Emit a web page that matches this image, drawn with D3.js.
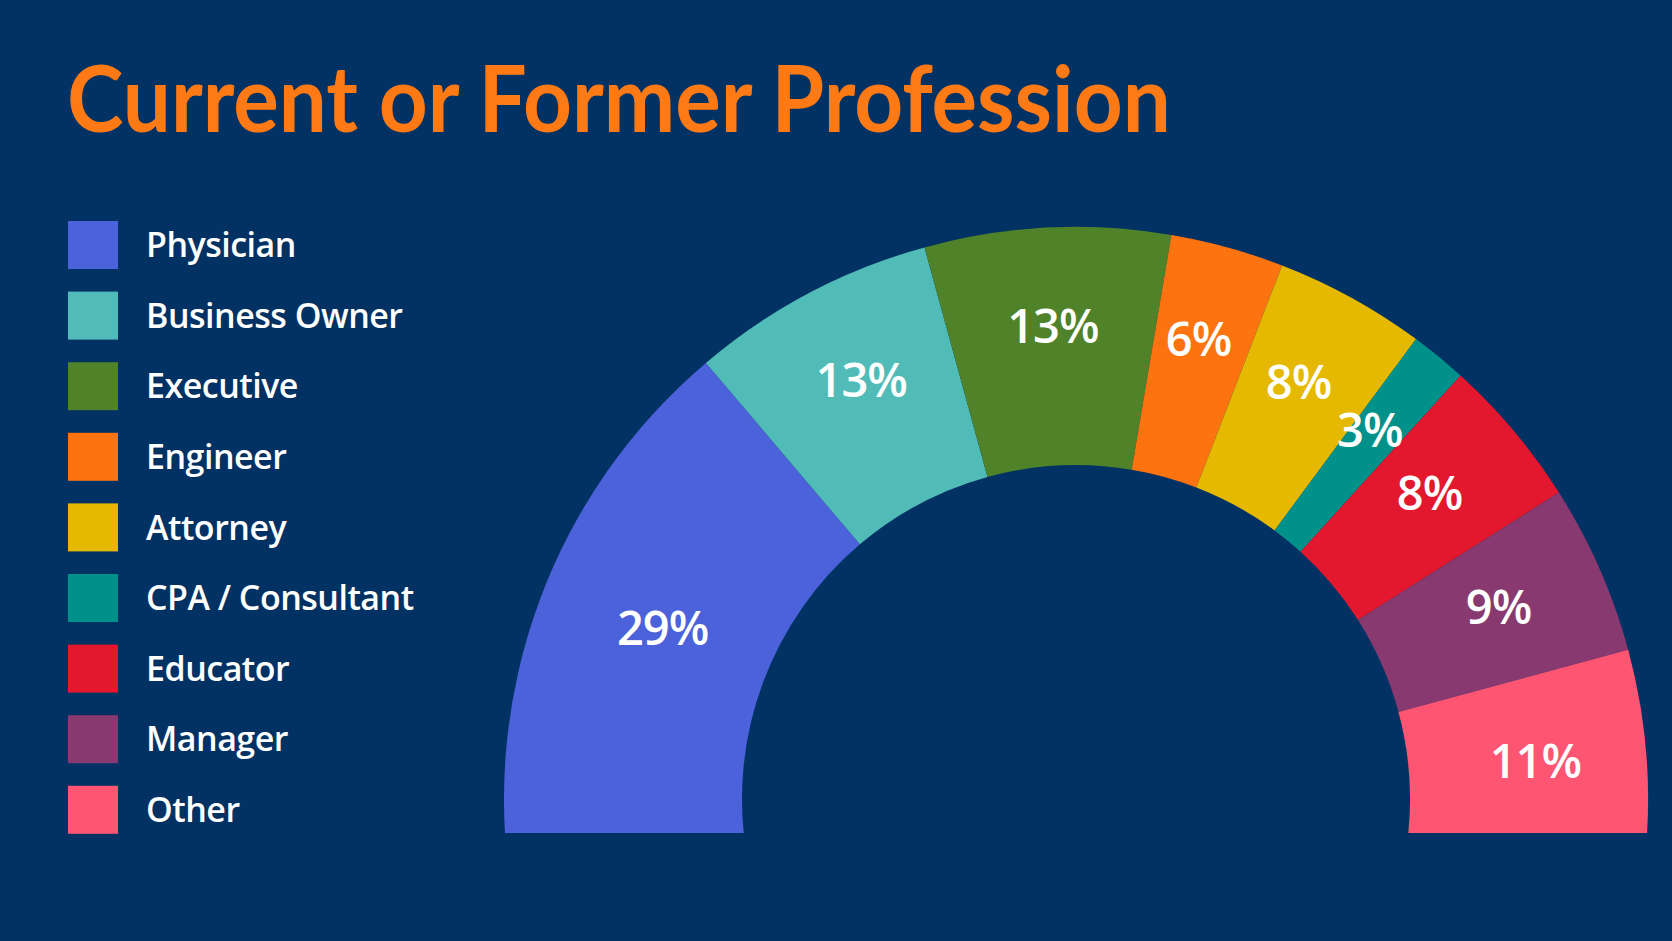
<!DOCTYPE html>
<html>
<head>
<meta charset="utf-8">
<script src="https://cdn.jsdelivr.net/npm/d3@7"></script>
<style>
  html, body { margin: 0; padding: 0; background: #023263; }
  svg { display: block; }
</style>
</head>
<body>
<svg id="chart" width="1672" height="941"></svg>
<script>
const categories = ["Physician", "Business Owner", "Executive", "Engineer", "Attorney", "CPA / Consultant", "Educator", "Manager", "Other"];
const values = [29, 13, 13, 6, 8, 3, 8, 9, 11];
const colors = ["#4B62DA", "#51BCB7", "#4F8229", "#FD730F", "#E5B901", "#00928A", "#E3182E", "#88396F", "#FE5573"];
const titleText = "Current or Former Profession";

const W = 1672, H = 941;
const svg = d3.select("#chart");
svg.append("rect").attr("width", W).attr("height", H).attr("fill", "#023263");

// Title
const title = svg.append("text")
  .attr("x", 67).attr("y", 132)
  .attr("font-family", "Lato, 'Open Sans', sans-serif")
  .attr("font-weight", 700)
  .attr("font-size", 92)
  .attr("fill", "#FF7A14")
  .text(titleText);
const tw = title.node().getComputedTextLength();
const targetW = 1104;
title.attr("transform", `translate(67,0) scale(${targetW / tw},1) translate(-67,0)`);

// Legend
const legend = svg.append("g");
const legItems = legend.selectAll("g").data(categories).join("g")
  .attr("transform", (d, i) => `translate(68, ${221 + i * 70.6})`);
legItems.append("rect").attr("width", 50).attr("height", 48).attr("fill", (d, i) => colors[i]);
legItems.append("text")
  .attr("x", 78).attr("y", 24).attr("dy", "0.36em")
  .attr("font-family", "'Open Sans', sans-serif")
  .attr("font-weight", 600)
  .attr("font-size", 34)
  .attr("letter-spacing", -0.5)
  .attr("fill", "#ffffff")
  .text(d => d);

// Semi donut
const cx = 1076, cy = 799, R = 572, r = 334;
const ext = 6 * Math.PI / 180;
const pie = d3.pie().sort(null).value(d => d.v)
  .startAngle(-Math.PI / 2 - ext).endAngle(Math.PI / 2 + ext);
const data = pie(categories.map((c, i) => ({ c, v: values[i], col: colors[i] })));
const arc = d3.arc().innerRadius(r).outerRadius(R);
const extra = 3 * Math.PI / 180; // drawn past the clip line so the bottom edge is flat
const last = data.length - 1;

svg.append("clipPath").attr("id", "clip")
  .append("rect").attr("x", 0).attr("y", 0).attr("width", W).attr("height", 833);

svg.append("g").attr("clip-path", "url(#clip)")
  .append("g").attr("transform", `translate(${cx},${cy})`)
  .selectAll("path").data(data).join("path")
  .attr("d", (d, i) => arc({
    startAngle: i === 0 ? d.startAngle - extra : d.startAngle,
    endAngle: i === last ? d.endAngle + extra : d.endAngle
  }))
  .attr("fill", d => d.data.col);

// label at area centroid of each wedge
const baseRc = (2 / 3) * (R ** 3 - r ** 3) / (R ** 2 - r ** 2);
function labelPos(d) {
  const half = (d.endAngle - d.startAngle) / 2;
  const rc = baseRc * Math.sin(half) / half;
  const mid = (d.startAngle + d.endAngle) / 2;
  return [rc * Math.sin(mid), -rc * Math.cos(mid) * 1.03];
}
const lg = svg.append("g").attr("transform", `translate(${cx},${cy})`);
lg.selectAll("text.lbl").data(data).join("text")
  .attr("class", "lbl")
  .attr("x", d => labelPos(d)[0])
  .attr("y", d => labelPos(d)[1])
  .attr("dy", "0.36em")
  .attr("text-anchor", "middle")
  .attr("font-family", "'Open Sans', sans-serif")
  .attr("font-weight", 600)
  .attr("font-size", 47)
  .attr("letter-spacing", -1)
  .attr("fill", "#ffffff")
  .text(d => d.data.v + "%");
</script>
</body>
</html>
